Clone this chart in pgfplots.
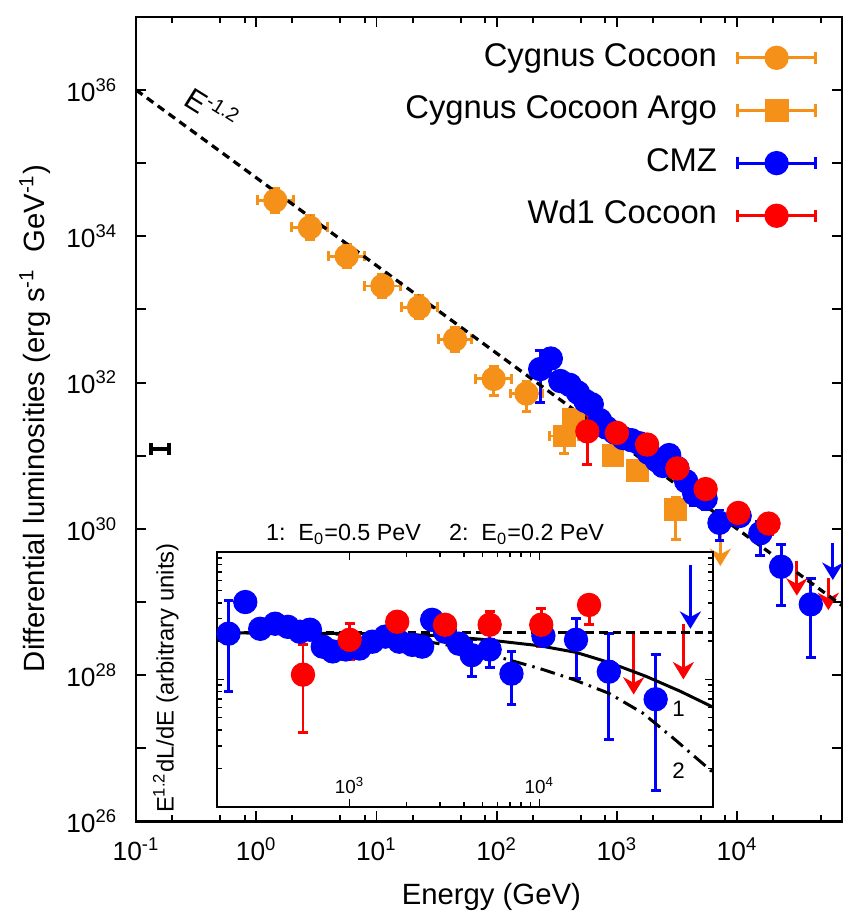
\documentclass[border=0pt]{standalone}
\usepackage{fontspec}
\setmainfont{Liberation Sans}
\usepackage{pgfplots}
\pgfplotsset{compat=1.18}
\usetikzlibrary{calc,arrows.meta}

\definecolor{cyg}{RGB}{245,145,25}
\definecolor{cmz}{RGB}{0,0,255}
\definecolor{wd1}{RGB}{255,0,0}

\pgfplotsset{
  pts/.style={only marks, mark=*, mark size=4.7pt, color=#1, mark options={draw=#1, fill=#1},
    error bars/x dir=both, error bars/y dir=both,
    error bars/x explicit relative, error bars/y explicit relative,
    error bars/error bar style={line width=1.2pt, solid},
    error bars/error mark options={rotate=90, line width=1.2pt, mark size=2pt}},
  uplim/.style={#1, line width=1.3pt, -{Stealth[width=8.5pt,length=7pt]}, forget plot},
}

\begin{document}
\begin{tikzpicture}
\begin{axis}[name=main, scale only axis, width=284.4pt, height=324pt,
  xmode=log, ymode=log, xmin=0.1, xmax=7.5e4, ymin=1e26, ymax=1e37,
  axis line style={line width=0.9pt},
  tick style={line width=0.8pt, black}, major tick length=4pt, minor tick length=2.4pt,
  xtick={0.1,1,10,100,1000,10000},
  xticklabels={10\textsuperscript{-1},10\textsuperscript{0},10\textsuperscript{1},10\textsuperscript{2},10\textsuperscript{3},10\textsuperscript{4}},
  minor xtick={0.2,0.5,0.8,2,5,8,20,50,80,200,500,800,2000,5000,8000,20000,50000},
  ytick={1e26,1e27,1e28,1e29,1e30,1e31,1e32,1e33,1e34,1e35,1e36},
  yticklabels={10\textsuperscript{26},,10\textsuperscript{28},,10\textsuperscript{30},,10\textsuperscript{32},,10\textsuperscript{34},,10\textsuperscript{36}},
  minor y tick style={draw=none},
  tick label style={font=\fontsize{10.6}{12}\selectfont},
  xticklabel style={yshift=-3pt},
  yticklabel style={xshift=-4pt},
  xlabel={Energy (GeV)},
  ylabel={Differential luminosities (erg s\textsuperscript{-1}\ \ GeV\textsuperscript{-1})},
  label style={font=\fontsize{11.8}{14}\selectfont},
  xlabel style={at={(axis description cs:0.503,-0.094)}, anchor=center},
  ylabel style={at={(axis description cs:-0.1435,0.501)}, anchor=center},
  legend plot pos=right, legend cell align=right,
  legend style={at={(axis description cs:0.978,0.975)}, anchor=north east, draw=none, fill=none,
    font=\fontsize{13.2}{15}\selectfont, row sep=8.8pt, column sep=7pt,
    nodes={inner sep=0pt, text height=9.5pt, text depth=2.9pt}},
]
\addlegendimage{legend image code/.code={
  \draw[cyg, line width=1.2pt, {Bar[width=5pt]}-{Bar[width=5pt]}] (0pt,0pt) -- (32.8pt,0pt);
  \fill[cyg] (16.4pt,0pt) circle[radius=4.7pt];}}
\addlegendentry{Cygnus Cocoon}
\addlegendimage{legend image code/.code={
  \draw[cyg, line width=1.2pt, {Bar[width=5pt]}-{Bar[width=5pt]}] (0pt,0pt) -- (32.8pt,0pt);
  \fill[cyg] (12pt,-4.5pt) rectangle (21pt,4.5pt);}}
\addlegendentry{Cygnus Cocoon Argo}
\addlegendimage{legend image code/.code={
  \draw[cmz, line width=1.2pt, {Bar[width=5pt]}-{Bar[width=5pt]}] (0pt,0pt) -- (32.8pt,0pt);
  \fill[cmz] (16.4pt,0pt) circle[radius=4.7pt];}}
\addlegendentry{CMZ}
\addlegendimage{legend image code/.code={
  \draw[wd1, line width=1.2pt, {Bar[width=5pt]}-{Bar[width=5pt]}] (0pt,0pt) -- (32.8pt,0pt);
  \fill[wd1] (16.4pt,0pt) circle[radius=4.7pt];}}
\addlegendentry{Wd1 Cocoon}

% stray bar near the left axis
\addplot[black, line width=1.6pt, {Bar[width=5pt]}-{Bar[width=5pt]}, forget plot]
  coordinates {(0.129,1.23e31) (0.195,1.23e31)};

% Cygnus Cocoon
\addplot[pts=cyg, forget plot] coordinates {
(1.44,3.09e34) += (0.413,0.445) -= (0.292,0.308)
(2.79,1.32e34) += (0.413,0.445) -= (0.292,0.308)
(5.65,5.37e33) += (0.413,0.445) -= (0.292,0.308)
(11.2,2.09e33) += (0.413,0.445) -= (0.292,0.308)
(22.6,1.07e33) += (0.413,0.445) -= (0.292,0.308)
(45.0,3.89e32) += (0.38,0.445) -= (0.275,0.308)
(94.4,1.12e32) += (0.413,0.5) -= (0.292,0.4)
(177,7.08e31) += (0.35,0.45) -= (0.26,0.43)
};
% Cygnus Cocoon Argo
\addplot[pts=cyg, mark=square*, mark size=4.4pt, forget plot] coordinates {
(365,1.86e31) += (0.318,0.15) -= (0.241,0.425)
(433,3.09e31) += (0,0) -= (0,0)
(927,1.0e31) += (0,0) -= (0,0)
(1493,6.3e30) += (0,0) -= (0,0)
(3076,1.82e30) += (0,0.479) -= (0,0.611)
};
\addplot[uplim=cyg] coordinates {(7250,9.8e29) (7250,3.1e29)};
% CMZ
\addplot[pts=cmz, forget plot] coordinates {
(230,1.53e32) += (0,0.807) -= (0,0.648)
(282,2.13e32) += (0,0) -= (0,0)
(338,1.05e32) += (0,0) -= (0,0)
(405,9.30e31) += (0,0) -= (0,0)
(473,7.31e31) += (0,0) -= (0,0)
(547,5.61e31) += (0,0) -= (0,0)
(618,5.04e31) += (0,0) -= (0,0)
(722,3.07e31) += (0,0) -= (0,0)
(815,2.43e31) += (0,0) -= (0,0)
(953,2.08e31) += (0,0) -= (0,0)
(1128,1.74e31) += (0,0) -= (0,0)
(1319,1.63e31) += (0,0) -= (0,0)
(1542,1.48e31) += (0,0) -= (0,0)
(1828,1.10e31) += (0,0) -= (0,0)
(2138,8.65e30) += (0,0) -= (0,0)
(2411,7.24e30) += (0,0) -= (0,0)
(2721,1.02e31) += (0,0) -= (0,0)
(3184,6.78e30) += (0,0) -= (0,0)
(3767,4.47e30) += (0,0) -= (0,0)
(4400,3.01e30) += (0,0.324) -= (0,0.316)
(5470,2.57e30) += (0,0.191) -= (0,0.274)
(7130,1.21e30) += (0,0.496) -= (0,0.425)
(10500,1.50e30) += (0,0) -= (0,0)
(15600,8.71e29) += (0,0.462) -= (0,0.502)
(23230,3.03e29) += (0,0.991) -= (0,0.705)
(41000,9.29e28) += (0,1.249) -= (0,0.81)
};
\addplot[uplim=cmz] coordinates {(62500,6.34e29) (62500,2.0e29)};
% Wd1 Cocoon
\addplot[pts=wd1, forget plot] coordinates {
(568,2.15e31) += (0,0.716) -= (0,0.652)
(1000,2.05e31) += (0,0.337) -= (0,0.302)
(1783,1.42e31) += (0,0) -= (0,0)
(3184,6.70e30) += (0,0) -= (0,0)
(5470,3.50e30) += (0,0.264) -= (0,0.349)
(10230,1.65e30) += (0,0.335) -= (0,0.327)
(18270,1.18e30) += (0,0.05) -= (0,0.301)
};
\addplot[uplim=wd1] coordinates {(31400,3.66e29) (31400,1.22e29)};
\addplot[uplim=wd1] coordinates {(57400,2.12e29) (57400,7.74e28)};

% E^-1.2 power law
\addplot[black, line width=1.3pt, dash pattern=on 3.2pt off 2.2pt, forget plot]
  coordinates {(0.1,1.0e36) (7.5e4,8.9e28)};
\node[rotate=-32, font=\fontsize{12}{14}\selectfont] at (axis cs:0.43,5.6e35) {E\textsuperscript{-1.2}};
% label of the inset's y axis
\node[rotate=90, font=\fontsize{9.6}{11}\selectfont] at (axis cs:0.177,9.1e27)
  {E\textsuperscript{1.2}dL/dE (arbitrary units)};
\end{axis}

\begin{axis}[at={($(main.south west)+(32.4pt,6pt)$)}, anchor=south west,
  scale only axis, width=200pt, height=102.4pt, clip=false,
  xmode=log, ymode=log, xmin=199, xmax=8.24e4, ymin=1, ymax=100,
  axis background/.style={fill=white},
  axis line style={line width=0.8pt},
  tick style={line width=0.6pt, black}, major tick length=3.2pt, minor tick length=2pt,
  xtick={1000,10000}, xticklabels={10\textsuperscript{3},10\textsuperscript{4}},
  xticklabel style={anchor=south, yshift=1.8pt, font=\fontsize{7.6}{9}\selectfont},
  ytick={1,10,100}, yticklabels={},
]
\addplot[pts=cmz] coordinates {
(230,22.9) += (0,0.807) -= (0,0.648)
(282,40.6) += (0,0) -= (0,0)
(338,25.0) += (0,0) -= (0,0)
(405,27.4) += (0,0) -= (0,0)
(473,25.9) += (0,0) -= (0,0)
(547,23.7) += (0,0) -= (0,0)
(618,24.6) += (0,0) -= (0,0)
(722,18.1) += (0,0) -= (0,0)
(815,16.6) += (0,0) -= (0,0)
(953,17.2) += (0,0) -= (0,0)
(1128,17.5) += (0,0) -= (0,0)
(1319,19.8) += (0,0) -= (0,0)
(1542,21.7) += (0,0) -= (0,0)
(1828,19.8) += (0,0) -= (0,0)
(2138,18.7) += (0,0) -= (0,0)
(2411,18.1) += (0,0) -= (0,0)
(2721,29.4) += (0,0) -= (0,0)
(3184,23.7) += (0,0) -= (0,0)
(3767,19.1) += (0,0) -= (0,0)
(4400,15.5) += (0,0.324) -= (0,0.316)
(5470,17.2) += (0,0.191) -= (0,0.274)
(7130,11.1) += (0,0.496) -= (0,0.425)
(10500,22.0) += (0,0) -= (0,0)
(15600,20.5) += (0,0.462) -= (0,0.502)
(23230,11.5) += (0,0.991) -= (0,0.705)
(41000,6.98) += (0,1.249) -= (0,0.81)
};
\addplot[uplim=cmz] coordinates {(62500,79.1) (62500,25)};
\addplot[pts=wd1] coordinates {
(568,10.9) += (0,0.716) -= (0,0.652)
(1000,20.5) += (0,0.337) -= (0,0.302)
(1783,28.4) += (0,0) -= (0,0)
(3184,26.9) += (0,0) -= (0,0)
(5470,26.9) += (0,0.264) -= (0,0.349)
(10230,26.9) += (0,0.335) -= (0,0.327)
(18270,38.5) += (0,0.05) -= (0,0.301)
};
\addplot[uplim=wd1] coordinates {(31400,22.9) (31400,7.6)};
\addplot[uplim=wd1] coordinates {(57400,27.4) (57400,10)};

\addplot[black, line width=1.3pt, dash pattern=on 3.5pt off 2pt] coordinates {(199,23.3) (82400,23.3)};
\addplot[black, line width=1.2pt] coordinates {
(199,23.3) (1403,22.9) (2890,22.1) (5280,20.5) (10000,18.4) (15630,16.3)
(23230,13.6) (36300,10.6) (55300,8.06) (82400,6.04)};
\addplot[black, line width=1.2pt, dash pattern=on 6pt off 2.5pt on 1pt off 2.5pt] coordinates {
(199,23.3) (767,22.9) (1581,21.7) (2560,19.8) (3670,18.1) (6490,14.6) (10000,12.2)
(15060,10) (23230,7.78) (35100,5.43) (52100,3.34) (82400,1.85)};
\node[font=\fontsize{9}{10}\selectfont] at (axis cs:54100,5.83) {1};
\node[font=\fontsize{9}{10}\selectfont] at (axis cs:54100,1.91) {2};
\node[font=\fontsize{9.4}{11}\selectfont] at (axis description cs:0.44,1.07)
  {1:\ \ E\textsubscript{0}=0.5 PeV\hspace{1.2em}2:\ \ E\textsubscript{0}=0.2 PeV};
\end{axis}

\path ($(main.south west)+(-54.8pt,-36.8pt)$) rectangle ($(main.south west)+(284.8pt,330.8pt)$);
\end{tikzpicture}
\end{document}
